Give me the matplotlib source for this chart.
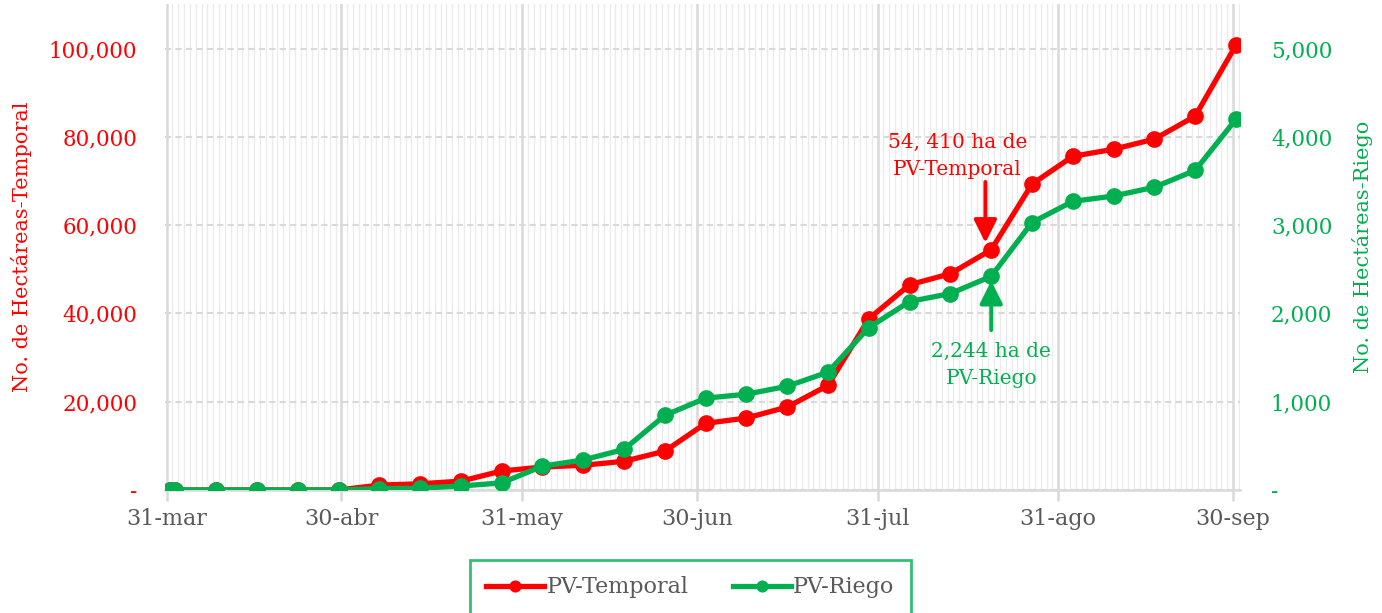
import numpy as np
import pandas as pd
import matplotlib
matplotlib.use("Agg")
import matplotlib.pyplot as plt
import matplotlib.dates as mdates
from matplotlib.ticker import FuncFormatter, MultipleLocator

plt.rcParams['font.family'] = ['DejaVu Serif']

# weekly cumulative hectares
fechas = pd.to_datetime(['2020-03-31', '2020-04-01', '2020-04-08', '2020-04-15', '2020-04-22',
                         '2020-04-29', '2020-05-06', '2020-05-13', '2020-05-20', '2020-05-27',
                         '2020-06-03', '2020-06-10', '2020-06-17', '2020-06-24', '2020-07-01',
                         '2020-07-08', '2020-07-15', '2020-07-22', '2020-07-29', '2020-08-05',
                         '2020-08-12', '2020-08-19', '2020-08-26', '2020-09-02', '2020-09-09',
                         '2020-09-16', '2020-09-23', '2020-09-30'])
temporal = [0, 0, 0, 0, 0, 0, 1100, 1400, 2000, 4300, 5200, 5600, 6500, 8800,
            15100, 16300, 18800, 23700, 38800, 46500, 49000, 54410, 69300,
            75600, 77200, 79500, 84700, 100800]
riego = [0, 0, 0, 0, 0, 0, 15, 20, 45, 80, 270, 340, 460, 845,
         1040, 1085, 1175, 1335, 1840, 2135, 2225, 2420, 3030,
         3270, 3330, 3430, 3620, 4200]

tick_fechas = pd.to_datetime(['2020-03-31', '2020-04-30', '2020-05-31', '2020-06-30',
                              '2020-07-31', '2020-08-31', '2020-09-30'])
tick_labels = ['31-mar', '30-abr', '31-may', '30-jun', '31-jul', '31-ago', '30-sep']

rojo = '#FF0000'
verde = '#00B050'
gris = '#595959'

# points sit in the middle of their day, like an Excel date axis
x = fechas + pd.Timedelta(hours=12)

fig = plt.figure(figsize=(13.82, 6.13), dpi=100)
ax = fig.add_axes([0.1195, 0.2007, 0.778, 0.792])
ax2 = ax.twinx()

ax.plot(x, temporal, color=rojo, lw=3.8, marker='o', ms=11, label='PV-Temporal', zorder=3)
ax2.plot(x, riego, color=verde, lw=3.8, marker='o', ms=11, label='PV-Riego', zorder=3)

ax.set_xlim(pd.Timestamp('2020-03-30 18:00'), pd.Timestamp('2020-10-01 06:00'))
ax.set_ylim(0, 110000)
ax2.set_ylim(0, 5500)
ax.yaxis.set_major_locator(MultipleLocator(20000))
ax2.yaxis.set_major_locator(MultipleLocator(1000))

fmt = FuncFormatter(lambda v, p: '-' if v == 0 else f'{v:,.0f}')
ax.yaxis.set_major_formatter(fmt)
ax2.yaxis.set_major_formatter(fmt)

ax.set_xticks(tick_fechas)
ax.set_xticklabels(tick_labels)
ax.xaxis.set_minor_locator(mdates.DayLocator())

# grids
ax.grid(which='minor', axis='x', color='#EBEBEB', lw=1.0)
ax.grid(which='major', axis='x', color='#D9D9D9', lw=1.8)
ax.grid(which='major', axis='y', color='#D9D9D9', lw=1.5, ls=(0, (3, 2)))
ax.set_axisbelow(True)

for a in (ax, ax2):
    for s in a.spines.values():
        s.set_visible(False)
ax.spines['bottom'].set_visible(True)
ax.spines['bottom'].set_color('#D9D9D9')
ax.spines['bottom'].set_linewidth(1.8)

ax.tick_params(axis='x', which='major', colors='#D9D9D9', width=1.8, length=8, labelcolor=gris, labelsize=16, pad=5)
ax.tick_params(axis='x', which='minor', length=0)
ax.tick_params(axis='y', length=0, labelcolor=rojo, labelsize=15.5, pad=20)
ax2.tick_params(axis='y', length=0, labelcolor=verde, labelsize=15.5, pad=22)

ax.set_ylabel('No. de Hectáreas-Temporal', color=rojo, fontsize=15, labelpad=12)
ax2.set_ylabel('No. de Hectáreas-Riego', color=verde, fontsize=15, labelpad=14)

# annotations
punto = x[21]
ax.annotate('', xy=(punto - pd.Timedelta(days=1), 56000), xytext=(punto - pd.Timedelta(days=1), 69800),
            arrowprops=dict(arrowstyle='-|>,head_width=0.35,head_length=0.7', color=rojo, lw=2.8,
                            mutation_scale=20, shrinkA=0, shrinkB=0), zorder=5)
ax.text(punto - pd.Timedelta(days=5.8), 75600, '54, 410 ha de\nPV-Temporal', color=rojo,
        fontsize=14.5, ha='center', va='center', linespacing=1.55)
ax2.annotate('', xy=(punto, 2370), xytext=(punto, 1810),
             arrowprops=dict(arrowstyle='-|>,head_width=0.35,head_length=0.7', color=verde, lw=2.8,
                             mutation_scale=20, shrinkA=0, shrinkB=0), zorder=5)
ax2.text(punto, 1420, '2,244 ha de\nPV-Riego', color=verde,
         fontsize=14.5, ha='center', va='center', linespacing=1.55)

h1, l1 = ax.get_legend_handles_labels()
h2, l2 = ax2.get_legend_handles_labels()
leg = fig.legend(h1 + h2, l1 + l2, loc='upper center', bbox_to_anchor=(0.4995, 0.087),
                 ncol=2, fontsize=16, frameon=True, fancybox=False, handlelength=2.6,
                 columnspacing=2.0, borderpad=0.75, borderaxespad=0, handletextpad=0.1,
                 markerscale=0.7)
leg.get_frame().set_edgecolor(verde)
leg.get_frame().set_linewidth(2)
for t in leg.get_texts():
    t.set_color(gris)

fig.savefig('out.png', dpi=100)
